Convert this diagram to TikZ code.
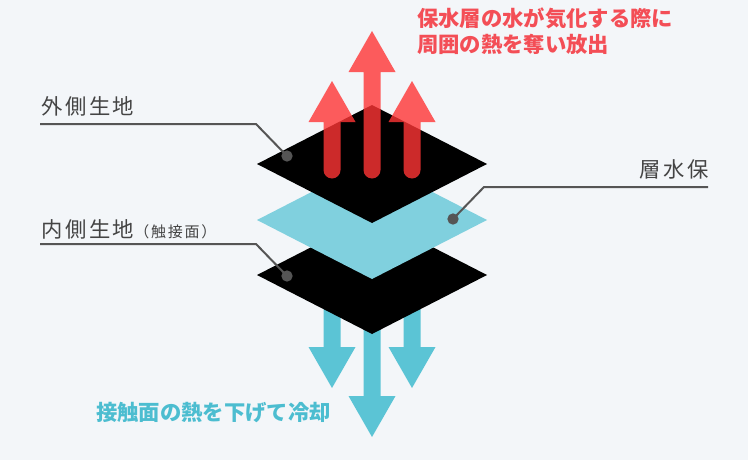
\documentclass[tikz,border=0pt]{standalone}
\usepackage{fontspec}
\newfontfamily\jpfont{Noto Sans CJK JP}
\newfontfamily\jpwide[LetterSpace=12]{Noto Sans CJK JP}
\usetikzlibrary{positioning}
\definecolor{bgpale}{HTML}{F3F6F9}
\definecolor{heatred}{HTML}{FF3535}
\definecolor{textred}{HTML}{F34E56}
\definecolor{coolcyan}{HTML}{5BC4D5}
\definecolor{textcyan}{HTML}{4CBDD0}
\definecolor{waterlayer}{HTML}{80D0DE}
\definecolor{leadgray}{HTML}{555555}
\definecolor{labelgray}{HTML}{444444}
\tikzset{
  % layers
  fabric/.style={fill=black},
  water/.style={fill=waterlayer},
  heat/.style={fill=heatred,opacity=0.8},
  cool/.style={fill=coolcyan},
  pics/heatarrow/.style={code={
    \path[heat] (-8.5,#1) -- (-8.5,41) -- (-23.5,41) -- (0,0) -- (23.5,41)
      -- (8.5,41) -- (8.5,#1) arc[start angle=0,end angle=180,radius=8.5] -- cycle;}},
  pics/coolarrow/.style={code={
    \path[cool] (-8.5,-#1) -- (-8.5,-41) -- (-23.5,-41) -- (0,0) -- (23.5,-41)
      -- (8.5,-41) -- (8.5,-#1) -- cycle;}},
  % labels
  lead/.style={draw=leadgray,line width=1.5pt},
  leaddot/.style={circle,fill=leadgray,inner sep=0pt,minimum size=8.5pt},
  lbl/.style={font=\jpwide\fontsize{16}{19}\selectfont,text=labelgray,inner sep=0pt},
  note/.style={font=\jpfont\bfseries\fontsize{16}{19.5}\selectfont,inner sep=0pt,align=left},
}
\begin{document}
\begin{tikzpicture}[x=0.75pt,y=-0.75pt]
\fill[bgpale] (0,0) rectangle (748,460);
\useasboundingbox (0,0) rectangle (748,460);
  % cooling arrows below
  \pic at (332,388) {coolarrow=88};
  \pic at (412,388) {coolarrow=88};
  \pic at (372,437) {coolarrow=137};
  % the three layers
  \coordinate (inner) at (372,275);
  \coordinate (mid) at (372,220);
  \coordinate (outer) at (372,164);
  \fill[fabric] (inner) ++(-115,0) -- ++(115,-59) -- ++(115,59) -- ++(-115,59) -- cycle;
  \fill[water] (mid) ++(-115,0) -- ++(115,-59) -- ++(115,59) -- ++(-115,59) -- cycle;
  \fill[fabric] (outer) ++(-115,0) -- ++(115,-59) -- ++(115,59) -- ++(-115,59) -- cycle;
  % heat going out
  \pic at (332,81) {heatarrow=89};
  \pic at (412,81) {heatarrow=89};
  \pic at (372,31) {heatarrow=139};
  % leaders
  \node[leaddot] (dotout) at (287,156) {};
  \node[leaddot] (dotin) at (287,276) {};
  \node[leaddot] (dotwater) at (453,219) {};
  \coordinate (outstart) at (40,124);
  \coordinate (outbend) at (256,124);
  \coordinate (instart) at (40,244);
  \coordinate (inbend) at (256,244);
  \coordinate (waterstart) at (708,187);
  \coordinate (waterbend) at (484,187);
  \draw[lead] (outstart) -- (outbend) -- (dotout.center);
  \draw[lead] (instart) -- (inbend) -- (dotin.center);
  \draw[lead] (waterstart) -- (waterbend) -- (dotwater.center);
  \node[lbl,anchor=base west] (outlbl) at (41,114.5) {外側生地};
  \node[lbl,anchor=base west] (inlbl) at (41,237.5) {内側生地\fontsize{11.25}{13}\selectfont（触接面）};
  \node[lbl,anchor=base east] (waterlbl) at (709,177.5) {層水保};
  % notes
  \node[note,text=textred,anchor=base west] (heatnote) at (417,52.5)
    {保水層の水が気化する際に\\周囲の熱を奪い放出};
  \node[note,text=textcyan,anchor=base west] (coolnote) at (96,420.5)
    {接触面の熱を下げて冷却};
\end{tikzpicture}
\end{document}
